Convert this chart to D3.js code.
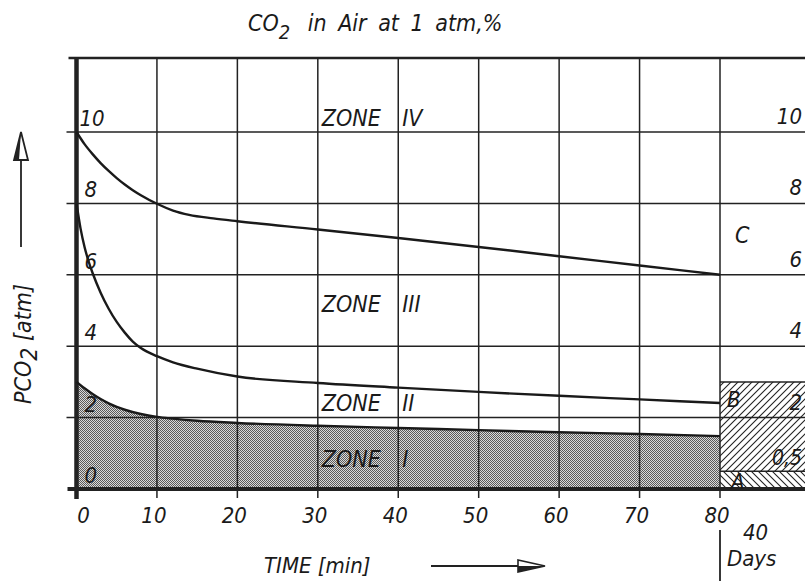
<!DOCTYPE html>
<html><head><meta charset="utf-8">
<script src="https://cdn.jsdelivr.net/npm/d3@7"></script>
<style>
html,body{margin:0;padding:0;background:#fff;}
svg text{font-family:'DejaVu Sans Condensed','Liberation Sans Narrow','DejaVu Sans',sans-serif;font-style:italic;fill:#1a1a1a;}
</style></head><body>
<svg id="chart" width="805" height="581"></svg>
<script>
// ---- data ----
const timeTicks = [0,10,20,30,40,50,60,70,80];
const pressureTicks = [0,2,4,6,8,10];
const leftTickLabels = ["0","2","4","6","8","10"];
const rightTickValues = [2,4,6,8,10];
const rightTickLabels = ["2","4","6","8","10"];
// boundary Zone III / Zone IV  [time min, PCO2 atm]
const boundaryIII_IV = [[0,10],[1,9.66],[2,9.38],[3,9.13],[4,8.91],[5,8.71],[6,8.53],[7,8.37],[8,8.23],[10,7.99],[12,7.8],[14,7.68],[17,7.58],[20,7.5],[30,7.27],[40,7.03],[50,6.78],[60,6.52],[70,6.26],[80,6.0]];
// boundary Zone II / Zone III
const boundaryII_III = [[0,8],[0.5,7.3],[1,6.78],[1.5,6.38],[2,6.05],[3,5.5],[4,5.05],[5,4.68],[6,4.38],[7,4.13],[8,3.95],[10,3.72],[12,3.55],[15,3.37],[20,3.15],[30,2.97],[40,2.84],[50,2.72],[60,2.61],[70,2.51],[80,2.41]];
// boundary Zone I / Zone II (top of shaded Zone I)
const boundaryI_II = [[0,3.0],[1,2.82],[2,2.66],[3,2.52],[4,2.4],[5,2.3],[6,2.22],[8,2.1],[10,2.02],[12,1.97],[15,1.91],[20,1.85],[30,1.77],[40,1.71],[50,1.65],[60,1.59],[70,1.54],[80,1.48]];
const zoneNames = ["ZONE","ZONE","ZONE","ZONE"];
const zoneNumerals = ["I","II","III","IV"];
const zoneLabelValues = [0.62,2.18,4.96,10.17];
// 40-day column bands
const bandNames = ["A","B"];
const bandLow = [0,0.5];
const bandHigh = [0.5,3];
const bandMarkers = ["0,5","2"];

// ---- layout ----
const W = 805, H = 581;
const x = d3.scaleLinear().domain([0,80]).range([76.5,720]);
const y = d3.scaleLinear().domain([0,10]).range([489,132]);
const topY = 58, leftX = x(0), rightEdge = W;
const svg = d3.select("#chart");
const defs = svg.append("defs");

const dots = defs.append("pattern").attr("id","dots").attr("width",2).attr("height",2).attr("patternUnits","userSpaceOnUse");
dots.append("rect").attr("width",2).attr("height",2).attr("fill","#dadada");
dots.append("rect").attr("width",1).attr("height",1).attr("fill","#5a5a5a");
dots.append("rect").attr("x",1).attr("y",1).attr("width",1).attr("height",1).attr("fill","#5a5a5a");

const hf = defs.append("pattern").attr("id","hatchF").attr("width",7).attr("height",7).attr("patternUnits","userSpaceOnUse");
hf.append("path").attr("d","M0,7 L7,0 M-1,1 L1,-1 M6,8 L8,6").attr("stroke","#222").attr("stroke-width",1.1);
const hb = defs.append("pattern").attr("id","hatchB").attr("width",7).attr("height",7).attr("patternUnits","userSpaceOnUse");
hb.append("path").attr("d","M0,0 L7,7 M-1,6 L1,8 M6,-1 L8,1").attr("stroke","#222").attr("stroke-width",1.1);

// zone I shaded area
const area = d3.area().x(d=>x(d[0])).y0(y(0)).y1(d=>y(d[1])).curve(d3.curveMonotoneX);
svg.append("path").datum(boundaryI_II).attr("d",area).attr("fill","url(#dots)");

// 40-day bands
bandNames.forEach((n,i)=>{
  svg.append("rect").attr("x",x(80)).attr("width",rightEdge-x(80))
    .attr("y",y(bandHigh[i])).attr("height",y(bandLow[i])-y(bandHigh[i]))
    .attr("fill", i===0 ? "url(#hatchB)" : "url(#hatchF)");
  svg.append("line").attr("x1",x(80)).attr("x2",rightEdge).attr("y1",y(bandHigh[i])).attr("y2",y(bandHigh[i]))
    .attr("stroke","#222").attr("stroke-width",1.5);
});

// horizontal grid lines
svg.append("g").selectAll("line").data(pressureTicks.filter(v=>v>0)).join("line")
  .attr("x1",leftX-10).attr("x2",rightEdge).attr("y1",d=>y(d)).attr("y2",d=>y(d))
  .attr("stroke","#222").attr("stroke-width",1.5);
// vertical grid lines (+ ticks below axis)
svg.append("g").selectAll("line").data(timeTicks.filter(t=>t>0)).join("line")
  .attr("x1",d=>x(d)).attr("x2",d=>x(d)).attr("y1",topY).attr("y2",y(0)+9)
  .attr("stroke","#222").attr("stroke-width",1.5);
// separator below 80
svg.append("line").attr("x1",x(80)).attr("x2",x(80)).attr("y1",530).attr("y2",H).attr("stroke","#222").attr("stroke-width",1.8);

// frame
svg.append("line").attr("x1",leftX-8).attr("x2",rightEdge).attr("y1",topY).attr("y2",topY).attr("stroke","#222").attr("stroke-width",2.5);
svg.append("line").attr("x1",leftX).attr("x2",leftX).attr("y1",topY-1).attr("y2",y(0)+10).attr("stroke","#222").attr("stroke-width",4.5);
svg.append("line").attr("x1",leftX-9).attr("x2",rightEdge).attr("y1",y(0)).attr("y2",y(0)).attr("stroke","#222").attr("stroke-width",4);

// curves
const line = d3.line().x(d=>x(d[0])).y(d=>y(d[1])).curve(d3.curveMonotoneX);
[boundaryIII_IV,boundaryII_III,boundaryI_II].forEach(c=>{
  svg.append("path").datum(c).attr("d",line).attr("fill","none").attr("stroke","#1a1a1a").attr("stroke-width",2.4);
});

// left tick labels
svg.append("g").selectAll("text").data(pressureTicks).join("text")
  .attr("x",(d)=> d===10 ? leftX+3 : leftX+8).attr("y",d=>y(d)-6)
  .attr("font-size",22).text((d,i)=>leftTickLabels[i]);
// right tick labels
svg.append("g").selectAll("text").data(rightTickValues).join("text")
  .attr("x",802).attr("text-anchor","end").attr("y",d=>y(d)-8)
  .attr("font-size",22).text((d,i)=>rightTickLabels[i]);
// x tick labels
svg.append("g").selectAll("text").data(timeTicks).join("text")
  .attr("x",d=> d===0 ? x(d)+7 : x(d)-3).attr("y",523).attr("text-anchor","middle")
  .attr("font-size",22).text(d=>d);

// zone labels
zoneNames.forEach((n,i)=>{
  const t = svg.append("text").attr("y",y(zoneLabelValues[i])).attr("font-size",23);
  t.append("tspan").attr("x",x(30)+4).text(n+" ");
  t.append("tspan").attr("x",x(40)+4).text(zoneNumerals[i]);
});

// band labels
svg.append("text").attr("x",735).attr("y",243).attr("font-size",23).text("C");
svg.append("text").attr("x",727).attr("y",407).attr("font-size",22).text(bandNames[1]);
svg.append("text").attr("x",731).attr("y",489).attr("font-size",22).text(bandNames[0]);
svg.append("text").attr("x",802).attr("text-anchor","end").attr("y",465).attr("font-size",21).text(bandMarkers[0]);

// 40 Days
svg.append("text").attr("x",743).attr("y",540).attr("font-size",22).text("40");
svg.append("text").attr("x",727).attr("y",566).attr("font-size",22).text("Days");

// title
const title = svg.append("text").attr("x",248).attr("y",31).attr("font-size",23).attr("word-spacing",5);
title.append("tspan").text("CO");
title.append("tspan").attr("dy",8).attr("font-size",20).text("2");
title.append("tspan").attr("dy",-8).attr("dx",6).text(" in Air at 1 atm,%");

// y axis title
const yt = svg.append("text").attr("transform","translate(31,404) rotate(-90)").attr("font-size",23);
yt.append("tspan").text("PCO");
yt.append("tspan").attr("dy",6).text("2");
yt.append("tspan").attr("dy",-6).text(" [atm]");
// up arrow
svg.append("line").attr("x1",21).attr("x2",21).attr("y1",247).attr("y2",155).attr("stroke","#222").attr("stroke-width",1.8);
svg.append("path").attr("d","M21,132 L14,160 L28,160 Z").attr("fill","#fff").attr("stroke","#222").attr("stroke-width",1.8);
svg.append("path").attr("d","M21,132 L14,160 L19,160 Z").attr("fill","#222");

// x axis title
svg.append("text").attr("x",264).attr("y",573).attr("font-size",22).text("TIME [min]");
svg.append("line").attr("x1",431).attr("x2",520).attr("y1",566).attr("y2",566).attr("stroke","#222").attr("stroke-width",1.8);
svg.append("path").attr("d","M545,566 L518,560 L518,572 Z").attr("fill","#fff").attr("stroke","#222").attr("stroke-width",1.6);
svg.append("path").attr("d","M545,566 L518,566 L518,572 Z").attr("fill","#222");
</script>
</body></html>
